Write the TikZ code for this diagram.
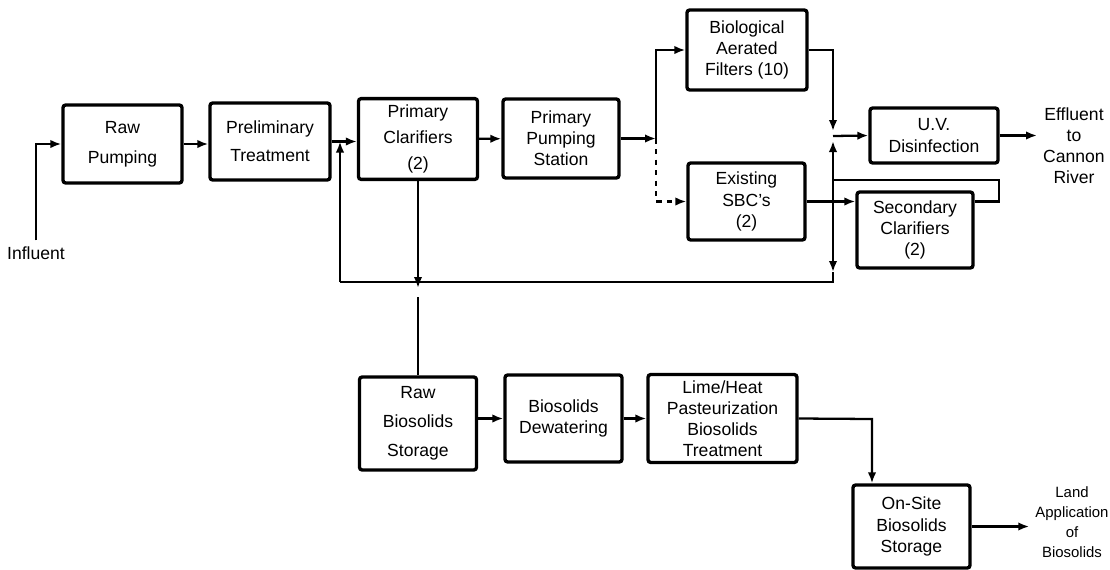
\documentclass[tikz,border=0pt]{standalone}
\usepackage{fontspec}
\setmainfont{Liberation Sans}
\usetikzlibrary{arrows.meta}
\tikzset{
  unit/.style={draw, line width=1.9pt, rounded corners=1.5pt, align=center,
    font=\fontsize{10}{12}\selectfont},
  lbl/.style={align=center, font=\fontsize{10}{12}\selectfont},
  pipe/.style={line width=1.3pt},
  flow/.style={pipe, -{Latex[length=2.2mm,width=1.7mm]}},
}
\begin{document}
\begin{tikzpicture}[x=0.02cm,y=-0.02cm]
      \useasboundingbox (0,0) rectangle (1110,569);
      \draw
        (122.5,144) node[unit,minimum width=2.38cm,minimum height=1.56cm] (raw){Raw\\[5pt]Pumping}
        (270,141.5) node[unit,minimum width=2.4cm,minimum height=1.54cm] (prelim){Preliminary\\[4pt]Treatment}
        (418,139) node[unit,minimum width=2.38cm,minimum height=1.56cm] (clar){Primary\\[3pt]Clarifiers\\[3pt](2)}
        (561,138.5) node[unit,minimum width=2.32cm,minimum height=1.58cm] (ppump){Primary\\Pumping\\Station}
        (747,50) node[unit,minimum width=2.4cm,minimum height=1.6cm] (baf){Biological\\Aerated\\Filters (10)}
        (746.5,201.5) node[unit,minimum width=2.34cm,minimum height=1.54cm] (sbc){Existing\\SBC's\\(2)}
        (934,135.5) node[unit,minimum width=2.56cm,minimum height=1.1cm] (uv){U.V.\\Disinfection}
        (915,230) node[unit,minimum width=2.32cm,minimum height=1.52cm] (secclar){Secondary\\Clarifiers\\(2)}
        (418,423.5) node[unit,minimum width=2.34cm,minimum height=1.86cm] (rbs){Raw\\[4.5pt]Biosolids\\[4.5pt]Storage}
        (563.5,418.5) node[unit,minimum width=2.34cm,minimum height=1.74cm] (dewat){Biosolids\\Dewatering}
        (722.5,418.5) node[unit,minimum width=2.98cm,minimum height=1.74cm] (lime){Lime/Heat\\Pasteurization\\Biosolids\\Treatment}
        (911.5,526.5) node[unit,minimum width=2.34cm,minimum height=1.66cm] (onsite){On-Site\\Biosolids\\Storage}
        (36,253) node[lbl] (inf){Influent}
        (1074,146) node[lbl] (eff){Effluent\\to\\Cannon\\River}
        (1072,522) node[lbl,font=\fontsize{8.5}{11.5}\selectfont] (land){Land\\Application\\of\\Biosolids};
      % junctions
      \coordinate (sp) at (656,138.5);
      \coordinate (uj) at (833,131);
      \coordinate (mj) at (833,136);
      \coordinate (lj) at (833,141);
      \coordinate (sj) at (833,180);
      \coordinate (dj) at (833,272);
      \coordinate (rc1) at (833,282);
      \coordinate (rc2) at (340,282);
      \coordinate (rj) at (340,141.5);
      \coordinate (cx) at (418,288);
      \coordinate (cx2) at (418,297);
      \coordinate (lc) at (872,419);
      \begin{scope}[flow]
        \draw (inf.north) |- (raw.west);
        \draw (raw.east) -- (raw.east -| prelim.west);
        \draw (prelim.east) -- (prelim.east -| clar.west);
        \draw (clar) -- (ppump);
        \draw (ppump.east) -- (sp);
        \draw (sp) |- (baf.west);
        \draw[dashed] (sp) |- (sbc.west);
        \draw (baf.east) -| (uj);
        \draw (sj) -- (lj);
        \draw (mj) -- (uv.west);
        \draw (uv.east) -- (uv.east -| eff.west);
        \draw (sbc.east) -- (sbc.east -| secclar.west);
        \draw (sj) -- (dj);
        \draw (rc2) -- (rj);
        \draw (clar.south) -- (cx);
        \draw (rbs.east |- dewat.west) -- (dewat.west);
        \draw (dewat) -- (lime);
        \draw (lime.east) -- (lc) -- (lc |- onsite.north);
        \draw (onsite.east) -- (onsite.east -| land.west);
      \end{scope}
      \begin{scope}[pipe]
        \draw (secclar.east |- sbc.east) -- ++(24,0) |- (sj);
        \draw (dj) -- (rc1) -- (rc2);
        \draw (cx2) -- (rbs.north);
      \end{scope}
    \end{tikzpicture}
\end{document}
